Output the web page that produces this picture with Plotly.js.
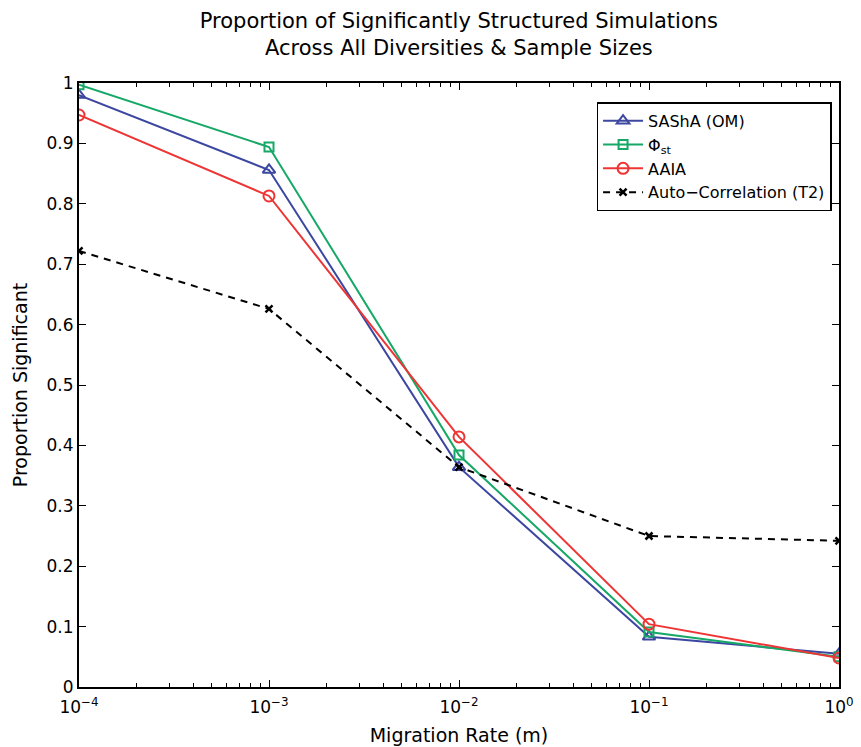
<!DOCTYPE html>
<html>
<head>
<meta charset="utf-8">
<script src="https://cdn.plot.ly/plotly-3.0.1.min.js"></script>
<style>body{margin:0;background:#fff}#chart{width:861px;height:747px}</style>
</head>
<body>
<div id="chart"></div>
<script>
const migration = [1e-4, 1e-3, 1e-2, 1e-1, 1];
const sasha = [0.980, 0.856, 0.364, 0.083, 0.055];
const phiSt = [0.997, 0.894, 0.384, 0.091, 0.050];
const aaia = [0.947, 0.813, 0.414, 0.104, 0.048];
const autoCorr = [0.722, 0.626, 0.364, 0.250, 0.242];
const xTickVals = [1e-4, 1e-3, 1e-2, 1e-1, 1];
const xTickText = ['10<sup>−4</sup>', '10<sup>−3</sup>', '10<sup>−2</sup>', '10<sup>−1</sup>', '10<sup>0</sup>'];
const yTickVals = [0, 0.1, 0.2, 0.3, 0.4, 0.5, 0.6, 0.7, 0.8, 0.9, 1];

// minor tick positions: 2..9 within each decade
const minorVals = [];
for (let d = -4; d < 0; d++) for (let k = 2; k <= 9; k++) minorVals.push(k * Math.pow(10, d));

const font = 'DejaVu Sans, Liberation Sans, Arial, sans-serif';
const traces = [
  {x: migration, y: sasha, name: 'SAShA (OM)', mode: 'lines+markers',
   line: {color: '#3c47a0', width: 2}, marker: {symbol: 'triangle-up-open', size: 11, color: '#3c47a0', line: {width: 2}}},
  {x: migration, y: phiSt, name: 'Φ<sub>st</sub>', mode: 'lines+markers',
   line: {color: '#16a866', width: 2}, marker: {symbol: 'square-open', size: 9, color: '#16a866', line: {width: 2}}},
  {x: migration, y: aaia, name: 'AAIA', mode: 'lines+markers',
   line: {color: '#ee3535', width: 2}, marker: {symbol: 'circle-open', size: 11, color: '#ee3535', line: {width: 2}}},
  {x: migration, y: autoCorr, name: 'Auto−Correlation (T2)', mode: 'lines+markers',
   line: {color: '#000', width: 2, dash: '7px,6px'}, marker: {symbol: 'x-thin-open', size: 7, color: '#000', line: {width: 2.5}}}
];

const layout = {
  width: 861, height: 747,
  paper_bgcolor: '#fff', plot_bgcolor: '#fff',
  margin: {l: 79, r: 22, t: 83, b: 60},
  font: {family: font, color: '#000', size: 17},
  title: {text: 'Proportion of Significantly Structured Simulations<br>Across All Diversities & Sample Sizes',
          font: {family: font, size: 21, color: '#000'}, x: 0.533, xanchor: 'center',
          yref: 'container', y: 0.963, yanchor: 'middle'},
  showlegend: true,
  legend: {x: 0.681, y: 0.968, xanchor: 'left', yanchor: 'top', bordercolor: '#000', borderwidth: 1.5,
           bgcolor: '#fff', font: {family: font, size: 16, color: '#000'}, tracegroupgap: 0, itemwidth: 40},
  xaxis: {type: 'log', range: [-4, 0], tickvals: xTickVals, ticktext: xTickText,
          ticks: 'inside', ticklen: 7, tickwidth: 1.2, tickcolor: '#000', ticklabelstandoff: 4,
          showline: true, linecolor: '#000', linewidth: 2, mirror: 'ticks', showgrid: false, zeroline: false,
          minor: {tickmode: 'array', tickvals: minorVals, ticks: 'inside', ticklen: 4, tickwidth: 1, tickcolor: '#000', showgrid: false},
          tickfont: {family: font, size: 17, color: '#000'},
          title: {text: 'Migration Rate (m)', font: {family: font, size: 19, color: '#000'}, standoff: 12}},
  yaxis: {range: [0, 1], tickvals: yTickVals,
          ticks: 'inside', ticklen: 7, tickwidth: 1.2, tickcolor: '#000',
          showline: true, linecolor: '#000', linewidth: 2, mirror: 'ticks', showgrid: false, zeroline: false,
          tickfont: {family: font, size: 17, color: '#000'},
          title: {text: 'Proportion Significant', font: {family: font, size: 19, color: '#000'}, standoff: 14}}
};
Plotly.newPlot('chart', traces, layout, {displayModeBar: false});
</script>
</body>
</html>
